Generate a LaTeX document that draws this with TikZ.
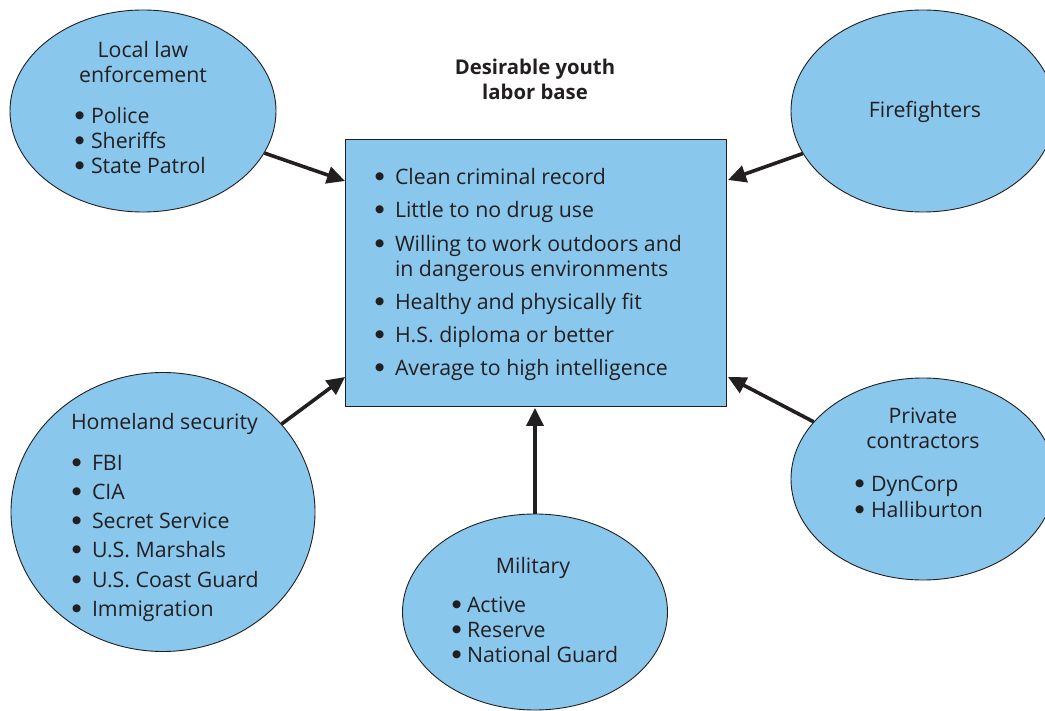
\documentclass[tikz,border=0pt]{standalone}
\usepackage{fontspec}
\setmainfont{Open Sans}
\newfontfamily\symfont{DejaVu Sans}
\usetikzlibrary{shapes.geometric,arrows.meta}
\definecolor{skyfill}{HTML}{89C7EC}
\definecolor{ink}{HTML}{231F20}
% round list bullet set at mid x-height
\newcommand\bul{\raisebox{5pt}{\fontsize{10.5}{10.5}\symfont ●}}
\begin{document}
\begin{tikzpicture}[x=1pt,y=-1pt,
  oval/.style={ellipse,draw=ink,line width=0.9pt,fill=skyfill,inner sep=0pt},
  txt/.style={inner sep=0pt,outer sep=0pt,text=ink,font=\fontsize{21.3}{25}\selectfont},
  feed/.style={draw=ink,line width=3.6pt,-{Triangle[length=18pt,width=17pt]}},
]
\useasboundingbox (0,0) rectangle (1045,711);

% central box
\node[draw=ink,line width=1.3pt,fill=skyfill,minimum width=381pt,minimum height=267pt,inner sep=0pt]
  (box) at (536,273) {};
\node[txt,font=\fontsize{20.3}{25}\selectfont\bfseries,anchor=base] (title) at (535,75)
  {\begin{tabular}[t]{@{}c@{}}Desirable youth\\labor base\end{tabular}};
\node[txt,anchor=base west] (reqs) at (375,185) {\begin{tabular}[t]{@{}p{20pt}@{}l@{}}
\bul & Clean criminal record\\[8pt]
\bul & Little to no drug use\\[8.5pt]
\bul & Willing to work outdoors and\\
     & in dangerous environments\\[8pt]
\bul & Healthy and physically fit\\[8pt]
\bul & H.S. diploma or better\\[8.5pt]
\bul & Average to high intelligence
\end{tabular}};

% source groups
\node[oval,minimum width=266pt,minimum height=202pt] (law) at (143,111) {};
\node[oval,minimum width=264pt,minimum height=202pt] (fire) at (923,111) {};
\node[oval,minimum width=304pt,minimum height=279pt] (home) at (163,512) {};
\node[oval,minimum width=265pt,minimum height=196pt] (mil) at (535,612) {};
\node[oval,minimum width=264pt,minimum height=202pt] (priv) at (923,479) {};

\node[txt,anchor=base] (lawT) at (143,58)
  {\begin{tabular}[t]{@{}c@{}}Local law\\enforcement\end{tabular}};
\node[txt,anchor=base west] (lawL) at (75,124) {\begin{tabular}[t]{@{}p{16pt}@{}l@{}}
\bul & Police\\ \bul & Sheriffs\\ \bul & State Patrol\end{tabular}};

\node[txt,anchor=base] (fireT) at (925,118) {Firefighters};

\node[txt,anchor=base west] (homeT) at (71,430) {Homeland security};
\node[txt,anchor=base west] (homeL) at (72,470) {\begin{tabular}[t]{@{}p{20pt}@{}l@{}}
\bul & FBI\\[4.3pt] \bul & CIA\\[4.3pt] \bul & Secret Service\\[4.3pt]
\bul & U.S. Marshals\\[4.3pt] \bul & U.S. Coast Guard\\[4.3pt] \bul & Immigration\end{tabular}};

\node[txt,anchor=base] (milT) at (533,573) {Military};
\node[txt,anchor=base west] (milL) at (452,612) {\begin{tabular}[t]{@{}p{15pt}@{}l@{}}
\bul & Active\\ \bul & Reserve\\ \bul & National Guard\end{tabular}};

\node[txt,anchor=base] (privT) at (923,424)
  {\begin{tabular}[t]{@{}c@{}}Private\\contractors\end{tabular}};
\node[txt,anchor=base west] (privL) at (855,491) {\begin{tabular}[t]{@{}p{16pt}@{}l@{}}
\bul & DynCorp\\[1pt] \bul & Halliburton\end{tabular}};

% arrow targets on the box border
\coordinate (inNW) at (345,181);
\coordinate (inNE) at (728,180);
\coordinate (inSW) at (345,377);
\coordinate (inSE) at (728,377);
\coordinate (inS)  at (535,408);

\draw[feed] (law) -- (inNW);
\draw[feed] (fire) -- (inNE);
\draw[feed] (home) -- (inSW);
\draw[feed] (priv) -- (inSE);
\draw[feed] (mil) -- (inS);
\end{tikzpicture}
\end{document}
